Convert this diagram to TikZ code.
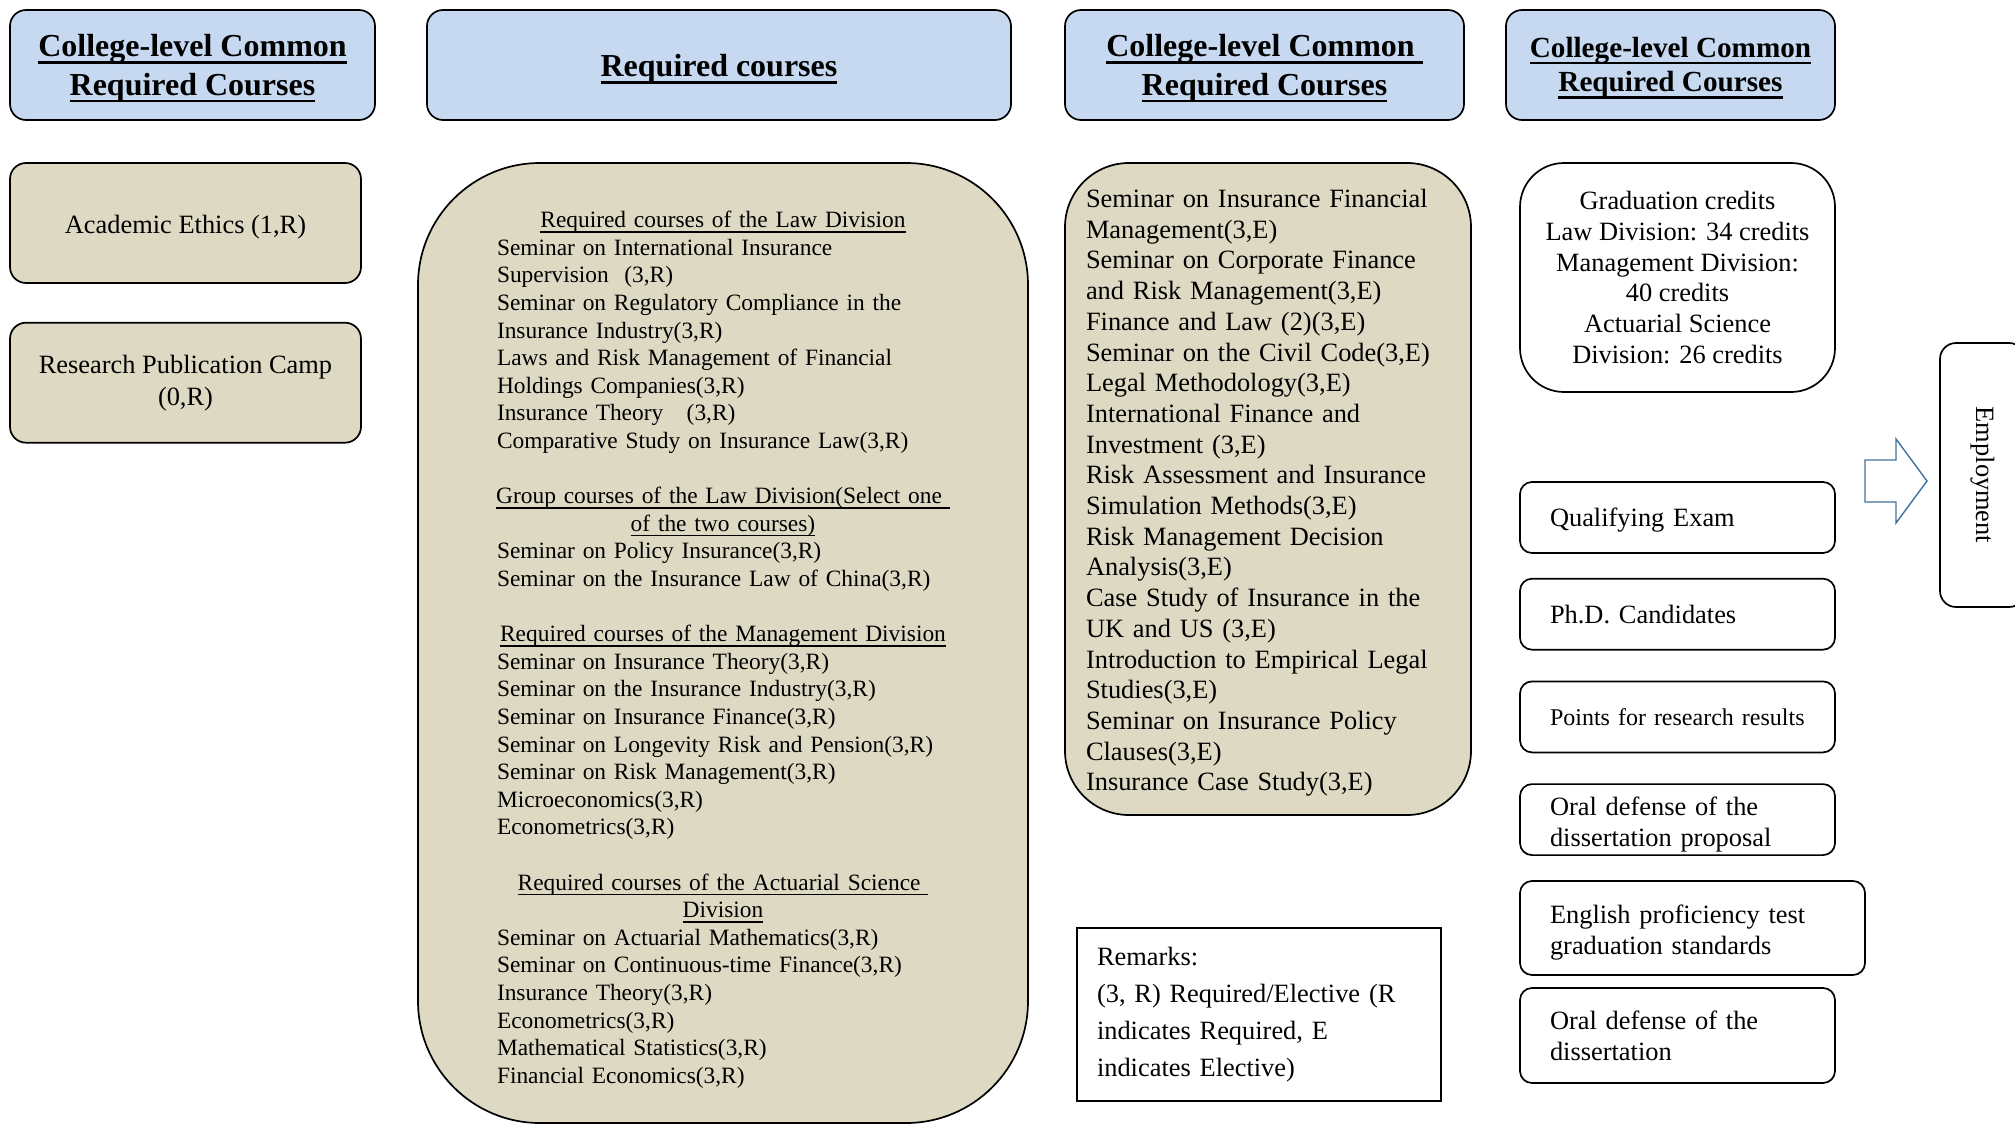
\documentclass[tikz,border=0pt]{standalone}
\usepackage{fontspec}
\setmainfont{Liberation Serif}
\usetikzlibrary{positioning}
\definecolor{headblue}{HTML}{C6D9F1}
\definecolor{coursetan}{HTML}{DDD9C3}
\definecolor{arrowblue}{HTML}{41719C}
\newcommand\ulbox[3]{\sbox0{#3}\rlap{\rule[-#1]{\wd0}{#2}}\usebox0}
\newcommand\hdul[1]{\ulbox{3.6pt}{1.4pt}{#1}}
\newcommand\divhead[1]{\makebox[226pt][c]{\ulbox{2.4pt}{.6pt}{#1}}}
\newcommand\topgap[1]{\rule{0pt}{#1}}

\begin{document}
\begin{tikzpicture}[
  x=0.5pt, y=-0.5pt,
  box/.style={draw,line width=.85pt,inner sep=0pt},
  header/.style={box,fill=headblue,rounded corners=8pt,minimum height=55pt,align=center,font=\fontsize{16}{19.3}\selectfont\bfseries},
  course/.style={box,fill=coursetan,align=center,font=\fontsize{13.2}{16}\selectfont},
  milestone/.style={box,rounded corners=6pt,minimum width=157.5pt,minimum height=35.5pt,inner xsep=15pt,text width=127.5pt,align=left,font=\fontsize{13.2}{15.4}\selectfont}
]
\useasboundingbox (0,0) rectangle (2015,1124);

\node[header,minimum width=182.5pt] (hcommonA) at (192.5,65) {\topgap{14.5pt}\hdul{College-level Common}\\\hdul{Required Courses}};
\node[header,minimum width=292pt] (hrequired) at (719,65) {\topgap{15.5pt}\hdul{Required courses}};
\node[header,minimum width=199.5pt] (hcommonB) at (1264.5,65) {\topgap{14.5pt}\hdul{College-level Common\ }\\\hdul{Required Courses}};
\node[header,minimum width=164.5pt,font=\fontsize{14.6}{17.3}\selectfont\bfseries] (hcommonC) at (1670.5,65) {\topgap{13pt}\hdul{College-level Common}\\\hdul{Required Courses}};

\node[course,rounded corners=8pt,minimum width=175.5pt,minimum height=60pt] (ethics) at (185.5,223) {\topgap{13pt}Academic Ethics (1,R)};
\node[course,rounded corners=8pt,minimum width=175.5pt,minimum height=60pt,below=19pt of ethics] (camp) {Research Publication Camp\\(0,R)};

\node[course,rounded corners=61pt,minimum width=305pt,minimum height=480pt,text width=226pt,align=left,font=\fontsize{11.7}{13.8}\selectfont] (lawbox) at (723,643) {%
\topgap{15pt}\divhead{Required courses of the Law Division}\\
Seminar on International Insurance\\
Supervision\ \ (3,R)\\
Seminar on Regulatory Compliance in the\\
Insurance Industry(3,R)\\
Laws and Risk Management of Financial\\
Holdings Companies(3,R)\\
Insurance Theory\quad (3,R)\\
Comparative Study on Insurance Law(3,R)\\[13.8pt]
\divhead{Group courses of the Law Division(Select one\ }\\
\divhead{of the two courses)}\\
Seminar on Policy Insurance(3,R)\\
Seminar on the Insurance Law of China(3,R)\\[13.8pt]
\divhead{Required courses of the Management Division}\\
Seminar on Insurance Theory(3,R)\\
Seminar on the Insurance Industry(3,R)\\
Seminar on Insurance Finance(3,R)\\
Seminar on Longevity Risk and Pension(3,R)\\
Seminar on Risk Management(3,R)\\
Microeconomics(3,R)\\
Econometrics(3,R)\\[13.8pt]
\divhead{Required courses of the Actuarial Science\ }\\
\divhead{Division}\\
Seminar on Actuarial Mathematics(3,R)\\
Seminar on Continuous-time Finance(3,R)\\
Insurance Theory(3,R)\\
Econometrics(3,R)\\
Mathematical Statistics(3,R)\\
Financial Economics(3,R)};

\node[course,rounded corners=32pt,minimum width=203pt,minimum height=326pt,text width=182pt,align=left,font=\fontsize{13.2}{15.35}\selectfont] (elective) at (1268,489) {%
\topgap{13pt}Seminar on Insurance Financial\\
Management(3,E)\\
Seminar on Corporate Finance\\
and Risk Management(3,E)\\
Finance and Law (2)(3,E)\\
Seminar on the Civil Code(3,E)\\
Legal Methodology(3,E)\\
International Finance and\\
Investment\ (3,E)\\
Risk Assessment and Insurance\\
Simulation Methods(3,E)\\
Risk Management Decision\\
Analysis(3,E)\\
Case Study of Insurance in the\\
UK and US (3,E)\\
Introduction to Empirical Legal\\
Studies(3,E)\\
Seminar on Insurance Policy\\
Clauses(3,E)\\
Insurance Case Study(3,E)};

\node[box,minimum width=182pt,minimum height=86.5pt,inner xsep=10pt,text width=162pt,align=left,font=\fontsize{13.2}{18.5}\selectfont] (remarks) at (1259,1014.5) {Remarks:\\(3, R) Required/Elective (R\\indicates Required, E\\indicates Elective)};

\node[box,rounded corners=22pt,minimum width=157.5pt,minimum height=114.5pt,align=center,font=\fontsize{13.2}{15.4}\selectfont] (credits) at (1677.5,277.5) {Graduation credits\\Law Division: 34 credits\\Management Division:\\40 credits\\Actuarial Science\\Division: 26 credits};

\node[milestone] (qualify) at (1677.5,517.5) {\topgap{12pt}Qualifying Exam};
\node[milestone,below=12pt of qualify] (phd) {Ph.D. Candidates};
\node[milestone,below=15pt of phd,font=\fontsize{12}{14}\selectfont] (points) {Points for research results};
\node[milestone,below=15pt of points] (propdefense) {\topgap{14pt}Oral defense of the\\dissertation proposal};
\node[milestone,minimum width=172.5pt,text width=142.5pt,minimum height=47pt] (english) at (1692.5,928) {\topgap{14pt}English proficiency test\\graduation standards};
\node[milestone,minimum height=47.5pt] (thesisdefense) at (1677.5,1035.5) {Oral defense of the\\dissertation};

\node[box,rotate=-90,rounded corners=8pt,minimum width=132pt,minimum height=42.5pt,font=\fontsize{13.2}{16}\selectfont] (employ) at (1982.5,475) {Employment};
\draw[arrowblue,line width=.7pt,fill=white] (1865,460) -- (1896,460) -- (1896,439) -- (1927,481) -- (1896,523) -- (1896,502) -- (1865,502) -- cycle;
\end{tikzpicture}
\end{document}
